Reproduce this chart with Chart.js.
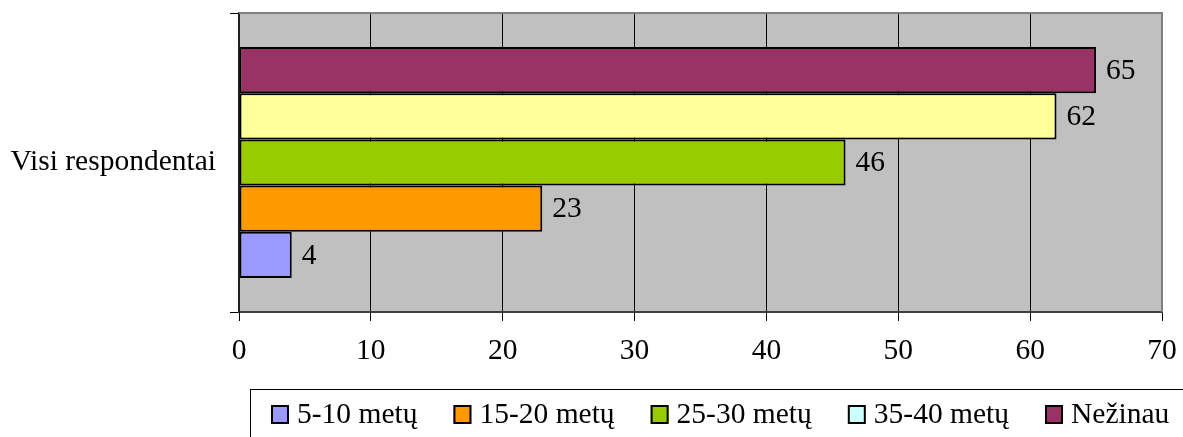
<!DOCTYPE html>
<html lang="lt">
<head>
<meta charset="utf-8">
<title>Visi respondentai</title>
<script src="https://cdn.jsdelivr.net/npm/chart.js@4/dist/chart.umd.min.js"></script>
<style>
  html, body { margin: 0; padding: 0; background: #ffffff; }
  #wrap { position: relative; width: 1183px; height: 437px; }
</style>
</head>
<body>
<div id="wrap"><canvas id="chart" width="1183" height="437"></canvas></div>
<script>
// Categories, series and axis values
const categories = ['Visi respondentai'];
const seriesNames = ['5-10 metų', '15-20 metų', '25-30 metų', '35-40 metų', 'Nežinau'];
const seriesValues = [4, 23, 46, 62, 65];
const axisMin = 0;
const axisMax = 70;
const axisStep = 10;

// Colours: bar fills and legend swatches
const barColors = ['#9999FF', '#FF9900', '#99CC00', '#FFFF99', '#993366'];
const swatchColors = ['#9999FF', '#FF9900', '#99CC00', '#CCFFFF', '#993366'];

const FONT = "'Liberation Serif', 'Times New Roman', serif";
const FONT_SIZE = 29.5;

// Bars are stacked top-to-bottom in dataset order, so the last series goes first.
const order = seriesNames.map((_, i) => i).reverse();
const datasets = order.map(i => ({
  label: seriesNames[i],
  data: [seriesValues[i]],
  backgroundColor: barColors[i],
  borderColor: '#000000',
  borderWidth: 2,
  borderSkipped: false,
  categoryPercentage: 0.773,
  barPercentage: 1.0
}));

// Grey plot background plus the grey frame on top and right
const plotBackground = {
  id: 'plotBackground',
  beforeDraw(chart) {
    const { ctx, chartArea: a } = chart;
    ctx.save();
    ctx.fillStyle = '#C0C0C0';
    ctx.fillRect(a.left, a.top, a.right - a.left, a.bottom - a.top);
    ctx.restore();
  },
  afterDraw(chart) {
    const { ctx, chartArea: a } = chart;
    ctx.save();
    ctx.strokeStyle = '#808080';
    ctx.lineWidth = 2;
    ctx.beginPath();
    ctx.moveTo(a.left, a.top);
    ctx.lineTo(a.right, a.top);
    ctx.lineTo(a.right, a.bottom);
    ctx.stroke();
    ctx.restore();
  }
};

// Value labels to the right of each bar
const valueLabels = {
  id: 'valueLabels',
  afterDatasetsDraw(chart) {
    const { ctx } = chart;
    ctx.save();
    ctx.font = FONT_SIZE + 'px ' + FONT;
    ctx.fillStyle = '#000000';
    ctx.textAlign = 'left';
    ctx.textBaseline = 'middle';
    chart.data.datasets.forEach((ds, di) => {
      const meta = chart.getDatasetMeta(di);
      meta.data.forEach((bar, j) => {
        ctx.fillText(String(ds.data[j]), bar.x + 10, bar.y + 1);
      });
    });
    ctx.restore();
  }
};

// Boxed legend along the bottom, in series order
const boxedLegend = {
  id: 'boxedLegend',
  afterDraw(chart) {
    const { ctx } = chart;
    ctx.save();
    ctx.strokeStyle = '#000000';
    ctx.lineWidth = 1;
    ctx.strokeRect(250.5, 389.5, 1000, 100);
    ctx.font = FONT_SIZE + 'px ' + FONT;
    ctx.textBaseline = 'middle';
    ctx.textAlign = 'left';
    let x = 271;
    const boxTop = 405, box = 18;
    seriesNames.forEach((name, i) => {
      ctx.fillStyle = swatchColors[i];
      ctx.fillRect(x, boxTop, box, box + 1);
      ctx.lineWidth = 2;
      ctx.strokeStyle = '#000000';
      ctx.strokeRect(x + 1, boxTop + 1, box - 2, box - 1);
      ctx.fillStyle = '#000000';
      const tx = x + 26;
      ctx.fillText(name, tx, boxTop + 10);
      x = tx + ctx.measureText(name).width + 36;
    });
    ctx.restore();
  }
};

new Chart(document.getElementById('chart'), {
  type: 'bar',
  data: { labels: categories, datasets },
  plugins: [plotBackground, valueLabels, boxedLegend],
  options: {
    indexAxis: 'y',
    responsive: false,
    animation: false,
    events: [],
    layout: { padding: { top: 13, right: 21, bottom: 0, left: 0 } },
    plugins: {
      legend: { display: false },
      tooltip: { enabled: false },
      title: { display: false }
    },
    scales: {
      x: {
        type: 'linear',
        position: 'bottom',
        min: axisMin,
        max: axisMax,
        ticks: {
          stepSize: axisStep,
          color: '#000000',
          font: { family: FONT, size: FONT_SIZE },
          padding: 13,
          maxRotation: 0
        },
        grid: {
          color: '#000000',
          lineWidth: 1,
          tickLength: 9,
          drawTicks: true
        },
        border: { display: true, color: '#404040', width: 2 },
        afterFit(scale) {
          scale.height = 125;
          scale.paddingLeft = 0;
          scale.paddingRight = 0;
        }
      },
      y: {
        type: 'category',
        position: 'left',
        offset: true,
        ticks: {
          color: '#000000',
          font: { family: FONT, size: FONT_SIZE },
          padding: 14
        },
        grid: {
          offset: true,
          drawOnChartArea: false,
          tickLength: 9,
          color: '#000000'
        },
        border: { display: true, color: '#202020', width: 2 },
        afterFit(scale) {
          scale.width = 239;
          scale.paddingTop = 0;
          scale.paddingBottom = 0;
        }
      }
    }
  }
});
</script>
</body>
</html>
